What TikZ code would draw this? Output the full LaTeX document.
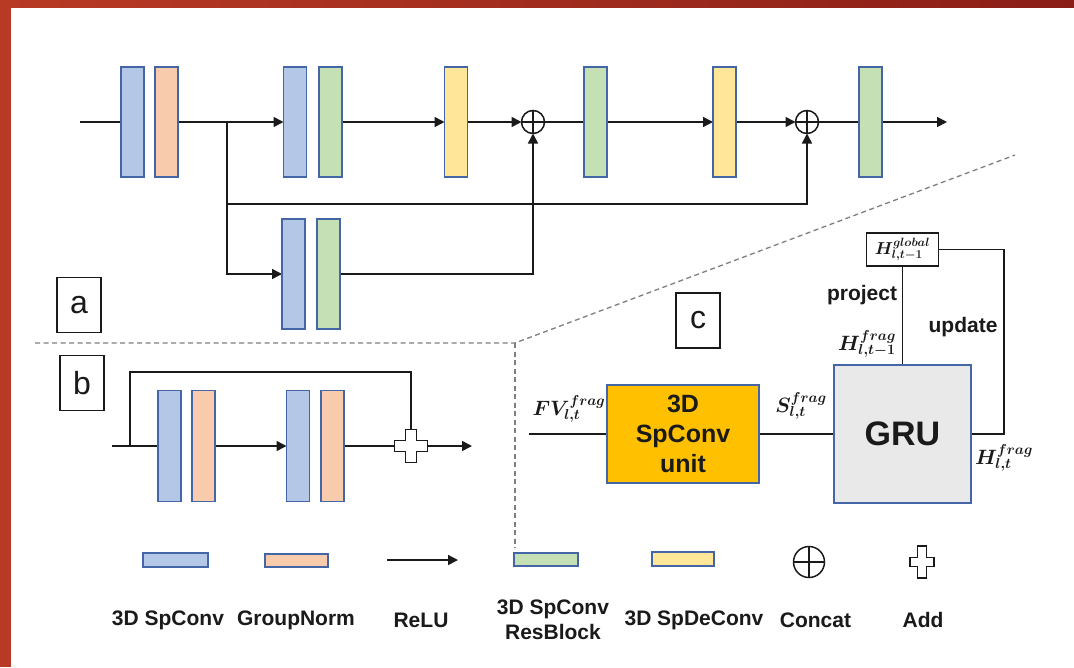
\documentclass[tikz,border=0pt]{standalone}
\usepackage{fontspec}
\setmainfont{Liberation Sans}
\usetikzlibrary{arrows.meta,calc}
\definecolor{frameL}{HTML}{B83A25}
\definecolor{frameR}{HTML}{8A1E17}
\definecolor{bdr}{HTML}{4466A6}
\definecolor{convF}{HTML}{B4C7E7}
\definecolor{normF}{HTML}{F8CBAD}
\definecolor{resF}{HTML}{C5E0B4}
\definecolor{deconvF}{HTML}{FFE699}
\definecolor{unitF}{HTML}{FFC000}
\definecolor{gruF}{HTML}{E9E9E9}
\definecolor{ink}{HTML}{1A1A1A}
\definecolor{dashC}{HTML}{7F7F7F}
\pgfdeclarelayer{wires}
\pgfsetlayers{wires,main}

% outline of an "add" cross: centre, half width, half height, half arm
\newcommand\addmark[4]{%
  \draw[symline,fill=white] (#1) ++(-#2,-#4) -- ++({#2-#4},0) -- ++(0,{-(#3-#4)})
    -- ++({2*#4},0) -- ++(0,{#3-#4}) -- ++({#2-#4},0) -- ++(0,{2*#4})
    -- ++({-(#2-#4)},0) -- ++(0,{#3-#4}) -- ++({-2*#4},0) -- ++(0,{-(#3-#4)})
    -- ++({-(#2-#4)},0) -- cycle;}

\begin{document}
\begin{tikzpicture}[x=1pt,y=-1pt,
  blk/.style={draw=bdr, line width=1.8pt, minimum width=23pt, minimum height=110pt, inner sep=0pt, outer sep=0pt},
  conv/.style={blk, fill=convF},
  norm/.style={blk, fill=normF},
  res/.style={blk, fill=resF},
  deconv/.style={blk, fill=deconvF},
  legblk/.style={draw=bdr, line width=1.6pt, minimum width=64pt, minimum height=13pt, inner sep=0pt},
  conn/.style={line width=1.5pt, draw=ink},
  arr/.style={conn, -{Triangle[length=10pt,width=10pt]}},
  symline/.style={line width=1.5pt, draw=ink},
  concat/.style={circle, draw=ink, line width=1.5pt, minimum size=#1, inner sep=0pt, outer sep=0pt,
    path picture={\draw[line width=1.5pt,ink] (path picture bounding box.north) -- (path picture bounding box.south)
      (path picture bounding box.west) -- (path picture bounding box.east);}},
  concat/.default=23pt,
  tag/.style={draw=ink, line width=1.5pt, minimum width=44pt, minimum height=55pt, inner sep=0pt,
    font=\fontsize{32}{32}\selectfont, text=ink},
  sep/.style={dashC, line width=1.3pt, dash pattern=on 5pt off 3.5pt},
  legtxt/.style={font=\fontsize{21}{25}\selectfont\bfseries, text=ink, align=center},
  mlab/.style={font=\fontsize{21}{21}\selectfont\boldmath, text=ink, inner sep=0pt},
  wlab/.style={font=\fontsize{21}{21}\selectfont\bfseries, text=ink, inner sep=0pt}
]
\useasboundingbox (0,0) rectangle (1074,667);
\begin{pgfonlayer}{wires}
\fill[white] (0,0) rectangle (1074,667);
\end{pgfonlayer}
% frame bands
\fill[frameL] (0,0) rectangle (11,667);
\shade[left color=frameL, right color=frameR] (0,0) rectangle (1074,7);

% ---------------- (a) encoder-decoder ----------------
\node[conv]   (a1) at (132.5,122) {};
\node[norm]   (a2) at (166.5,122) {};
\node[conv]   (a3) at (295,122) {};
\node[res]    (a4) at (330.5,122) {};
\node[deconv] (a5) at (456,122) {};
\node[res]    (a6) at (595.5,122) {};
\node[deconv] (a7) at (724.5,122) {};
\node[res]    (a8) at (870.5,122) {};
\node[conv]   (a9) at (293.5,274) {};
\node[res]    (a10) at (328.5,274) {};
\node[concat] (c1) at (533,122) {};
\node[concat] (c2) at (807,122) {};

\coordinate (ain) at (80,122);
\coordinate (abr) at (227,122);
\coordinate (alow) at (227,274);
\coordinate (askip) at (227,204);
\coordinate (aout) at (947,122);

\begin{pgfonlayer}{wires}
\draw[conn] (ain) -- (a1.west);
\draw[arr] (a2.east) -- (a3.west);
\draw[arr] (abr) -- (alow) -- (a9.west);
\draw[arr] (askip) -| (c2.south);
\draw[arr] (a10.east) -| (c1.south);
\draw[arr] (a4.east) -- (a5.west);
\draw[arr] (a5.east) -- (c1.west);
\draw[conn] (c1.east) -- (a6.west);
\draw[arr] (a6.east) -- (a7.west);
\draw[arr] (a7.east) -- (c2.west);
\draw[conn] (c2.east) -- (a8.west);
\draw[arr] (a8.east) -- (aout);
\end{pgfonlayer}

\node[tag] (ta) at (79,305) {a};

% separators
\coordinate (s0) at (35,343);
\coordinate (s1) at (515,343);
\coordinate (s2) at (1015,155);
\coordinate (s3) at (515,548);
\draw[sep] (s0) -- (s1) -- (s2);
\draw[sep] (s1) -- (s3);

% ---------------- (b) residual block ----------------
\node[tag] (tb) at (82,383) {b};
\node[conv, minimum height=111pt] (b1) at (169.5,446) {};
\node[norm, minimum height=111pt] (b2) at (203.5,446) {};
\node[conv, minimum height=111pt] (b3) at (298,446) {};
\node[norm, minimum height=111pt] (b4) at (332.5,446) {};
\node[minimum size=33pt, inner sep=0pt, outer sep=0pt] (badd) at (411,446) {};
\coordinate (bin) at (112,446);
\coordinate (btap) at (130,446);
\coordinate (bloop) at (130,372);
\coordinate (bout) at (472,446);
\begin{pgfonlayer}{wires}
\draw[conn] (bin) -- (b1.west);
\draw[conn] (btap) -- (bloop) -| (badd.north);
\draw[arr] (b2.east) -- (b3.west);
\draw[conn] (b4.east) -- (badd.west);
\draw[arr] (badd.east) -- (bout);
\end{pgfonlayer}
\addmark{badd}{16.5}{16.5}{5.5}

% ---------------- (c) recurrent fusion ----------------
\node[tag] (tc) at (698,320.5) {c};
\node[draw=bdr, line width=1.4pt, fill=unitF, minimum width=152pt, minimum height=98pt,
      inner sep=0pt, align=center, font=\fontsize{25}{30}\selectfont\bfseries, text=ink]
      (unit) at (683,434) {3D\\SpConv\\unit};
\node[draw=bdr, line width=1.4pt, fill=gruF, minimum width=137pt, minimum height=138pt,
      inner sep=0pt, font=\fontsize{34}{34}\selectfont\bfseries, text=ink]
      (gru) at (902.5,434) {GRU};
\node[draw=ink, line width=1.4pt, fill=white, minimum width=72pt, minimum height=33pt,
      inner sep=0pt, font=\fontsize{17}{17}\selectfont\boldmath, text=ink]
      (hg) at (902.5,249.5) {$H^{global}_{l,t-1}$};
\coordinate (cin) at (529,434);
\coordinate (cret) at (1004,434);
\begin{pgfonlayer}{wires}
\draw[conn, line width=1.2pt] (cin) -- (unit.west);
\draw[conn, line width=1.2pt] (unit.east) -- (gru.west);
\draw[conn, line width=1.2pt] (gru.north) -- (hg.south);
\draw[conn, line width=1.2pt] (gru.east) -- (cret) |- (hg.east);
\end{pgfonlayer}

\node[mlab] (lfv) at (569,409) {$FV^{frag}_{l,t}$};
\node[mlab] (ls) at (801,406) {$S^{frag}_{l,t}$};
\node[mlab] (lhp) at (867,344) {$H^{frag}_{l,t-1}$};
\node[mlab] (lht) at (1004,458) {$H^{frag}_{l,t}$};
\node[wlab] (lproj) at (862,295) {project};
\node[wlab] (lupd) at (963,327) {update};

% ---------------- legend ----------------
\node[legblk, fill=convF, minimum width=65pt, minimum height=14pt] (k1) at (175.5,560) {};
\node[legblk, fill=normF, minimum width=63pt] (k2) at (296.5,560.5) {};
\coordinate (k3a) at (387,560);
\coordinate (k3b) at (458,560);
\draw[arr] (k3a) -- (k3b);
\node[legblk, fill=resF] (k4) at (546,559.5) {};
\node[legblk, fill=deconvF, minimum width=62pt, minimum height=14pt] (k5) at (683,559) {};
\node[concat=31pt] (k6) at (809,562) {};
\coordinate (k7) at (922,562);
\addmark{k7}{12}{16}{4.5}

\node[legtxt] (t1) at (168,620) {3D SpConv};
\node[legtxt] (t2) at (296,620) {GroupNorm};
\node[legtxt] (t3) at (421,620) {ReLU};
\node[legtxt] (t4) at (553,620) {3D SpConv\\ResBlock};
\node[legtxt] (t5) at (694,620) {3D SpDeConv};
\node[legtxt] (t6) at (815.5,620) {Concat};
\node[legtxt] (t7) at (923,620) {Add};
\end{tikzpicture}
\end{document}
